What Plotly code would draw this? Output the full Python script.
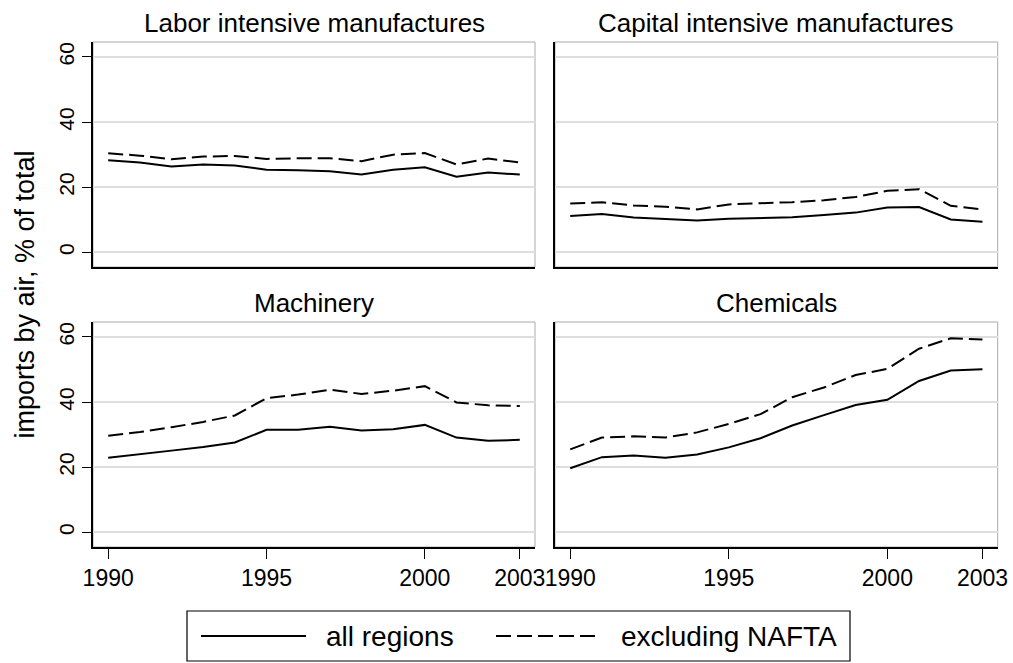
import plotly.graph_objects as go

# Share of US imports arriving by air, by product group
years = list(range(1990, 2004))

panels = [
    "Labor intensive manufactures",
    "Capital intensive manufactures",
    "Machinery",
    "Chemicals",
]

labor_all = [28.3, 27.6, 26.4, 27.0, 26.7, 25.4, 25.2, 24.9, 23.9, 25.4, 26.1, 23.2, 24.5, 23.9]
labor_exnafta = [30.4, 29.7, 28.6, 29.4, 29.6, 28.7, 28.9, 28.9, 28.0, 30.0, 30.5, 27.0, 28.8, 27.6]

capital_all = [11.2, 11.8, 10.7, 10.3, 9.8, 10.3, 10.5, 10.8, 11.5, 12.2, 13.8, 13.9, 10.1, 9.4]
capital_exnafta = [15.0, 15.4, 14.4, 14.0, 13.2, 14.7, 15.1, 15.4, 16.0, 17.0, 18.9, 19.4, 14.3, 13.2]

machinery_all = [22.9, 23.9, 25.1, 26.2, 27.6, 31.5, 31.5, 32.4, 31.3, 31.7, 33.0, 29.1, 28.1, 28.4]
machinery_exnafta = [29.7, 30.8, 32.3, 33.9, 35.9, 41.2, 42.3, 43.8, 42.5, 43.5, 44.9, 39.9, 39.0, 38.8]

chemicals_all = [19.7, 23.1, 23.6, 22.9, 23.9, 26.1, 28.9, 32.8, 36.0, 39.1, 40.7, 46.5, 49.7, 50.1]
chemicals_exnafta = [25.5, 29.1, 29.5, 29.1, 30.7, 33.3, 36.3, 41.5, 44.5, 48.3, 50.2, 56.4, 59.6, 59.2]

series_labels = ["all regions", "excluding NAFTA"]
y_ticks = [0, 20, 40, 60]
x_ticks = [1990, 1995, 2000, 2003]

panel_data = [
    (labor_all, labor_exnafta),
    (capital_all, capital_exnafta),
    (machinery_all, machinery_exnafta),
    (chemicals_all, chemicals_exnafta),
]

W, H = 1013, 663
FONT = "Liberation Sans, Arial, Helvetica, sans-serif"
DASH = "15px,6px"

# pixel frames of the four plot regions (left, right, top, bottom)
col_px = [(93, 535), (555, 997.7)]
row_px = [(42, 267), (322, 547)]


def px_x(v):
    return v / W


def px_y(v):
    return 1 - v / H


fig = go.Figure()
layout_axes = {}
shapes = []
annotations = []

for i, (name, (s_all, s_ex)) in enumerate(zip(panels, panel_data)):
    r, c = divmod(i, 2)
    n = i + 1
    xa = "x" if n == 1 else f"x{n}"
    ya = "y" if n == 1 else f"y{n}"
    xkey = "xaxis" if n == 1 else f"xaxis{n}"
    ykey = "yaxis" if n == 1 else f"yaxis{n}"

    fig.add_trace(go.Scatter(x=years, y=s_all, mode="lines", xaxis=xa, yaxis=ya,
                             line=dict(color="black", width=2), showlegend=False,
                             name=series_labels[0]))
    fig.add_trace(go.Scatter(x=years, y=s_ex, mode="lines", xaxis=xa, yaxis=ya,
                             line=dict(color="black", width=2, dash=DASH), showlegend=False,
                             name=series_labels[1]))

    x0, x1 = col_px[c]
    t0, b0 = row_px[r]
    bottom_row = r == 1
    left_col = c == 0

    layout_axes[xkey] = dict(
        domain=[px_x(x0), px_x(x1)], anchor=ya, range=[1989.52, 2003.48],
        automargin=False,
        tickvals=x_ticks if bottom_row else [], ticktext=[str(t) for t in x_ticks] if bottom_row else [],
        showticklabels=bottom_row, ticks="outside" if bottom_row else "",
        ticklen=10, tickwidth=1.2, tickcolor="black",
        showgrid=False, zeroline=False, showline=True, linecolor="black", linewidth=1.5,
        tickfont=dict(family=FONT, size=23, color="black"),
    )
    layout_axes[ykey] = dict(
        domain=[px_y(b0), px_y(t0)], anchor=xa, range=[-4.5, 64.6],
        automargin=False,
        tickvals=y_ticks, ticktext=[str(t) for t in y_ticks],
        showticklabels=left_col, ticks="outside" if left_col else "",
        ticklen=9, tickwidth=1.2, tickcolor="black", tickangle=-90,
        showgrid=True, gridcolor="#dedede", gridwidth=1.5,
        zeroline=False, showline=True, linecolor="black", linewidth=1.5,
        tickfont=dict(family=FONT, size=21, color="black"),
    )

    # gray outline of the plot region (top and right edges)
    shapes.append(dict(type="rect", xref="paper", yref="paper",
                       x0=px_x(x0), x1=px_x(x1), y0=px_y(b0), y1=px_y(t0),
                       line=dict(color="#aaaaaa", width=1), layer="below"))

    annotations.append(dict(text=name, x=px_x((x0 + x1) / 2), y=px_y(t0 - 19),
                            xref="paper", yref="paper", xanchor="center", yanchor="middle",
                            showarrow=False, font=dict(family=FONT, size=26, color="black")))

# shared y-axis title
annotations.append(dict(text="imports by air, % of total", x=px_x(24), y=px_y(294.5),
                        xref="paper", yref="paper", xanchor="center", yanchor="middle",
                        textangle=-90, showarrow=False,
                        font=dict(family=FONT, size=27, color="black")))

# legend box with line samples
leg_l, leg_r, leg_t, leg_b = 187, 850, 611, 661
leg_y = 636
shapes.append(dict(type="rect", xref="paper", yref="paper",
                   x0=px_x(leg_l), x1=px_x(leg_r), y0=px_y(leg_b), y1=px_y(leg_t),
                   line=dict(color="black", width=1.2), fillcolor="white"))
shapes.append(dict(type="line", xref="paper", yref="paper",
                   x0=px_x(201), x1=px_x(306), y0=px_y(leg_y), y1=px_y(leg_y),
                   line=dict(color="black", width=2)))
shapes.append(dict(type="line", xref="paper", yref="paper",
                   x0=px_x(496), x1=px_x(601), y0=px_y(leg_y), y1=px_y(leg_y),
                   line=dict(color="black", width=2, dash=DASH)))
annotations.append(dict(text=series_labels[0], x=px_x(324), y=px_y(leg_y),
                        xref="paper", yref="paper", xanchor="left", yanchor="middle",
                        showarrow=False, font=dict(family=FONT, size=28, color="black")))
annotations.append(dict(text=series_labels[1], x=px_x(619), y=px_y(leg_y),
                        xref="paper", yref="paper", xanchor="left", yanchor="middle",
                        showarrow=False, font=dict(family=FONT, size=28, color="black")))

fig.update_layout(
    width=W, height=H, autosize=False,
    margin=dict(l=0, r=0, t=0, b=0),
    paper_bgcolor="white", plot_bgcolor="white",
    shapes=shapes, annotations=annotations,
    **layout_axes,
)

fig.write_html("out.html")
